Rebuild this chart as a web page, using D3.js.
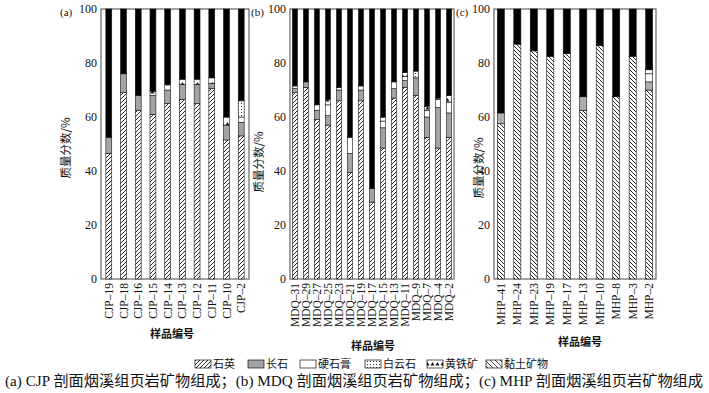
<!DOCTYPE html>
<html>
<head>
<meta charset="utf-8">
<script src="https://cdn.jsdelivr.net/npm/d3@7"></script>
<style>
  body { margin: 0; background: #fff; }
  text { font-family: "Liberation Serif", "Noto Sans CJK SC", serif; fill: #111; }
  .cjk { font-family: "Noto Sans CJK SC", "Liberation Serif", sans-serif; }
</style>
</head>
<body>
<div id="chart"></div>
<script>
// minerals, bottom to top of each bar
const minerals = ["石英", "长石", "硬石膏", "白云石", "黄铁矿", "黏土矿物"];
const yTicks = [0, 20, 40, 60, 80, 100];

// (a) CJP  -- rows: quartz, feldspar, anhydrite, dolomite, pyrite, clay (%)
const cjpSamples = ["CJP–19", "CJP–18", "CJP–16", "CJP–15", "CJP–14", "CJP–13", "CJP–12", "CJP–11", "CJP–10", "CJP–2"];
const cjpRows = [
    [46.5, 6, 0, 0, 0, 47.5],
    [69, 7, 0, 0, 0, 24],
    [62.5, 5.5, 0, 0, 0, 32],
    [61, 7, 0, 0, 1.5, 30.5],
    [65, 5, 0, 0, 2, 28],
    [66.5, 5.5, 0, 0, 2, 26],
    [65, 7, 0, 0, 2, 26],
    [70.5, 2, 0, 0, 2, 25.5],
    [51.5, 5.5, 0, 0, 3, 40],
    [53, 5, 2, 6, 0, 34]
];

// (b) MDQ
const mdqSamples = ["MDQ–31", "MDQ–29", "MDQ–27", "MDQ–25", "MDQ–23", "MDQ–21", "MDQ–19", "MDQ–17", "MDQ–15", "MDQ–13", "MDQ–11", "MDQ–9", "MDQ–7", "MDQ–4", "MDQ–2"];
const mdqRows = [
    [69, 1.5, 1, 0, 0, 28.5],
    [71, 2, 0, 0, 0, 27],
    [59, 3.5, 2, 0, 0, 35.5],
    [57, 3.5, 4, 0, 2, 33.5],
    [66, 4, 1, 0, 0, 29],
    [39.5, 7, 6, 0, 0, 47.5],
    [66, 4, 1.5, 0, 0, 28.5],
    [28.5, 5, 0, 0, 0, 66.5],
    [48.5, 7.5, 2.5, 0, 1.5, 40],
    [67, 3.5, 2.5, 0, 0, 27],
    [71, 2.5, 1.5, 0, 1.5, 23.5],
    [68, 6.5, 0, 2.5, 0, 23],
    [52.5, 7.5, 2.5, 0, 1.5, 36],
    [48.5, 15, 3, 0, 0.5, 33],
    [52.5, 9, 4, 0, 2.5, 32]
];

// (c) MHP
const mhpSamples = ["MHP–41", "MHP–24", "MHP–23", "MHP–19", "MHP–17", "MHP–13", "MHP–10", "MHP–8", "MHP–3", "MHP–2"];
const mhpRows = [
    [57.5, 4, 0, 0, 0, 38.5],
    [87, 0, 0, 0, 0, 13],
    [84.5, 0, 0, 0, 0, 15.5],
    [82.5, 0, 0, 0, 0, 17.5],
    [83.5, 0, 0, 0, 0, 16.5],
    [62.5, 5, 0, 0, 0, 32.5],
    [86.5, 0, 0, 0, 0, 13.5],
    [67.5, 0, 0, 0, 0, 32.5],
    [82.5, 0, 0, 0, 0, 17.5],
    [70, 3, 3, 0, 1.5, 22.5]
];

const caption = "(a) CJP 剖面烟溪组页岩矿物组成；(b) MDQ 剖面烟溪组页岩矿物组成；(c) MHP 剖面烟溪组页岩矿物组成";

// ---- SVG + patterns ----
const W = 709, H = 393;
const svg = d3.select("#chart").append("svg").attr("width", W).attr("height", H);
const defs = svg.append("defs");

function pattern(id, w, h, draw) {
    const p = defs.append("pattern").attr("id", id).attr("patternUnits", "userSpaceOnUse")
        .attr("width", w).attr("height", h);
    p.append("rect").attr("width", w).attr("height", h).attr("fill", "#fff");
    draw(p);
}
pattern("hatchR", 4, 4, p => p.append("path").attr("d", "M-1,1 l2,-2 M0,4 l4,-4 M3,5 l2,-2")
    .attr("stroke", "#111").attr("stroke-width", 0.9));
pattern("hatchL", 4, 4, p => p.append("path").attr("d", "M-1,3 l2,2 M0,0 l4,4 M3,-1 l2,2")
    .attr("stroke", "#111").attr("stroke-width", 0.9));
pattern("linesH", 4, 2, p => p.append("path").attr("d", "M0,1 h4").attr("stroke", "#333").attr("stroke-width", 0.9));
pattern("linesV", 2, 4, p => p.append("path").attr("d", "M1,0 v4").attr("stroke", "#333").attr("stroke-width", 0.8));
pattern("dots", 3, 3, p => p.append("circle").attr("cx", 1.5).attr("cy", 1.5).attr("r", 0.6).attr("fill", "#111"));
pattern("tri", 5, 8, p => p.append("path").attr("d", "M2.5,2 l2,3.5 h-4 z").attr("fill", "#111"));
pattern("hatchLegend", 5, 5, p => p.append("path").attr("d", "M-1,4 l2,2 M0,0 l5,5 M4,-1 l2,2")
    .attr("stroke", "#111").attr("stroke-width", 0.8));

const y = d3.scaleLinear().domain([0, 100]).range([279, 9]);

const panels = [
    { tag: "(a)", samples: cjpSamples, rows: cjpRows, x0: 101, x1: 249, pin: 0.6, pout: 0.33,
      quartz: "hatchR", feld: "linesH", tagX: 60, ylabX: 66, ylabY: 148, xlabX: 172, xlabY: 338 },
    { tag: "(b)", samples: mdqSamples, rows: mdqRows, x0: 290, x1: 454, pin: 0.55, pout: 0.22,
      quartz: "hatchR", feld: "linesH", tagX: 251, ylabX: 259, ylabY: 162, xlabX: 373, xlabY: 350 },
    { tag: "(c)", samples: mhpSamples, rows: mhpRows, x0: 494, x1: 656, pin: 0.57, pout: 0.2,
      quartz: "hatchL", feld: "linesV", tagX: 456, ylabX: 479, ylabY: 168, xlabX: 580, xlabY: 346 }
];

panels.forEach(pn => {
    const fills = [`url(#${pn.quartz})`, `url(#${pn.feld})`, "#fff", "url(#dots)", "url(#tri)", "#000"];
    const x = d3.scaleBand().domain(pn.samples).range([pn.x0, pn.x1])
        .paddingInner(pn.pin).paddingOuter(pn.pout);

    // frame
    svg.append("rect").attr("x", pn.x0).attr("y", y(100)).attr("width", pn.x1 - pn.x0)
        .attr("height", y(0) - y(100)).attr("fill", "none").attr("stroke", "#666").attr("stroke-width", 1.2);

    // stacked bars
    const stackData = pn.samples.map((s, i) => {
        const o = { sample: s };
        minerals.forEach((m, j) => o[m] = pn.rows[i][j]);
        return o;
    });
    const series = d3.stack().keys(minerals)(stackData);
    series.forEach((ser, j) => {
        svg.append("g").selectAll("rect")
            .data(ser.filter(d => d[1] - d[0] > 0))
            .enter().append("rect")
            .attr("x", d => x(d.data.sample))
            .attr("y", d => y(d[1]))
            .attr("width", x.bandwidth())
            .attr("height", d => y(d[0]) - y(d[1]))
            .attr("fill", fills[j])
            .attr("stroke", "#111").attr("stroke-width", 0.6);
    });

    // y axis labels
    const ya = svg.append("g").attr("transform", `translate(${pn.x0},0)`)
        .call(d3.axisLeft(y).tickValues(yTicks).tickSize(0).tickPadding(4));
    ya.select(".domain").remove();
    ya.selectAll("text").style("font-size", "12px").style("font-family", "Liberation Serif").attr("fill", "#111");

    // x axis labels (rotated)
    const xa = svg.append("g").attr("transform", `translate(0,${y(0)})`)
        .call(d3.axisBottom(x).tickSize(0).tickPadding(0));
    xa.select(".domain").remove();
    xa.selectAll("text")
        .attr("transform", "rotate(-90)")
        .attr("text-anchor", "end")
        .attr("x", -4).attr("y", 0).attr("dy", "0.35em")
        .attr("fill", "#111")
        .style("font-size", "11.5px").style("font-family", "Liberation Serif");

    // panel tag
    svg.append("text").attr("x", pn.tagX).attr("y", 16).style("font-size", "11px").text(pn.tag);

    // y title
    svg.append("text").attr("class", "cjk")
        .attr("transform", `translate(${pn.ylabX},${pn.ylabY}) rotate(-90)`)
        .attr("text-anchor", "middle").attr("dy", "0.35em")
        .style("font-size", "11.5px").style("fill", "#111").text("质量分数/%");

    // x title
    svg.append("text").attr("class", "cjk").attr("x", pn.xlabX).attr("y", pn.xlabY)
        .attr("text-anchor", "middle").style("font-size", "11px").style("font-weight", "bold")
        .text("样品编号");
});

// legend
const legendFills = ["url(#hatchR)", "url(#linesH)", "#fff", "url(#dots)", "url(#tri)", "url(#hatchLegend)"];
const legendX = [195, 248, 300, 365, 427, 486];
const lg = svg.append("g").attr("transform", "translate(0,360)");
minerals.forEach((m, i) => {
    lg.append("rect").attr("x", legendX[i]).attr("y", 0).attr("width", 16).attr("height", 8)
        .attr("fill", legendFills[i]).attr("stroke", "#111").attr("stroke-width", 0.7);
    lg.append("text").attr("class", "cjk").attr("x", legendX[i] + 18).attr("y", 8)
        .style("font-size", "11px").text(m);
});

// caption
svg.append("text").attr("x", 5).attr("y", 386)
    .attr("textLength", 698).attr("lengthAdjust", "spacingAndGlyphs")
    .style("font-size", "15px").text(caption);
</script>
</body>
</html>
